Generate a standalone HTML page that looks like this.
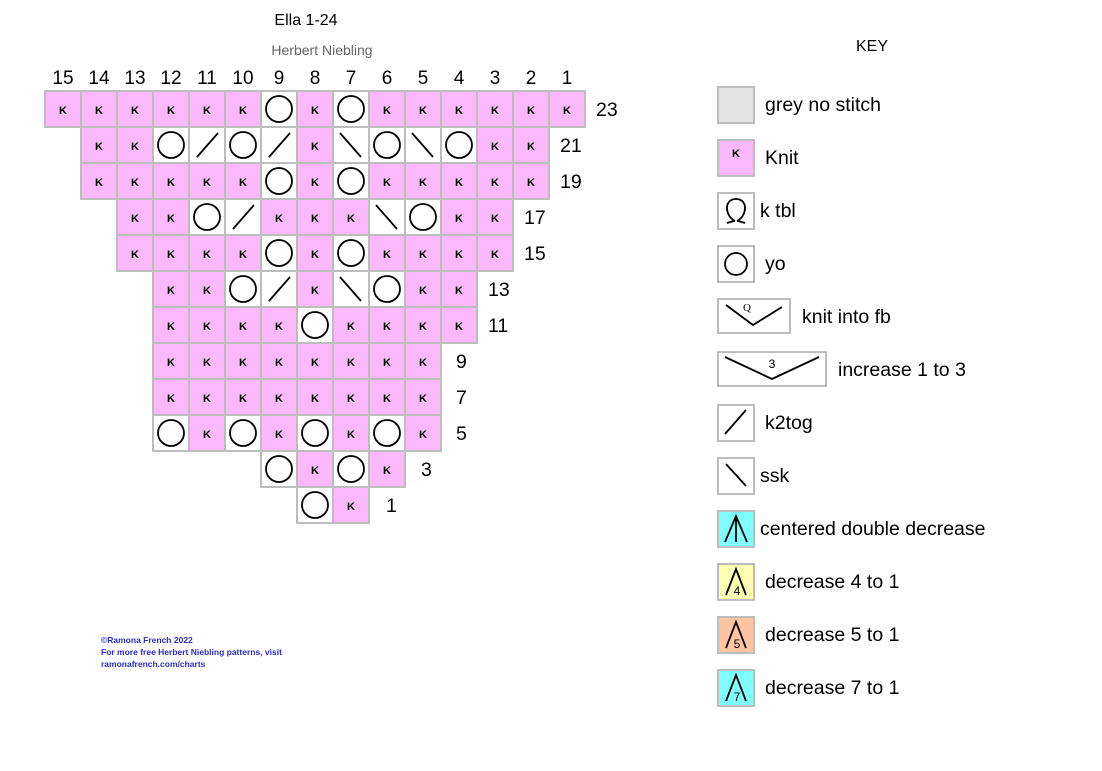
<!DOCTYPE html>
<html><head><meta charset="utf-8"><style>
body{margin:0;background:#fff;}
svg{display:block;font-family:"Liberation Sans",sans-serif;}
.k{fill:#fbb9fb;stroke:#bdbdbd;stroke-width:2}
.w{fill:#fff;stroke:#bdbdbd;stroke-width:2}
.kt{font-size:11px;font-weight:bold;text-anchor:middle;fill:#000}
.o{fill:none;stroke:#000;stroke-width:1.8}
.l{stroke:#000;stroke-width:1.8}
.lab{font-size:19.5px;fill:#000}
.num{font-size:19px;fill:#000;text-anchor:middle}
</style></head><body>
<svg width="1102" height="771" viewBox="0 0 1102 771">
<text x="306" y="25" font-size="16" text-anchor="middle">Ella 1-24</text>
<text x="322" y="55" font-size="14" fill="#666" text-anchor="middle">Herbert Niebling</text>
<g class="num">
<text x="63" y="84">15</text><text x="99" y="84">14</text><text x="135" y="84">13</text><text x="171" y="84">12</text><text x="207" y="84">11</text><text x="243" y="84">10</text><text x="279" y="84">9</text><text x="315" y="84">8</text><text x="351" y="84">7</text><text x="387" y="84">6</text><text x="423" y="84">5</text><text x="459" y="84">4</text><text x="495" y="84">3</text><text x="531" y="84">2</text><text x="567" y="84">1</text>
</g>
<g class="lab">
<text x="596" y="116">23</text><text x="560" y="152">21</text><text x="560" y="188">19</text><text x="524" y="224">17</text><text x="524" y="260">15</text><text x="488" y="296">13</text><text x="488" y="332">11</text><text x="456" y="368">9</text><text x="456" y="404">7</text><text x="456" y="440">5</text><text x="421" y="476">3</text><text x="386" y="512">1</text>
</g>

<rect class="k" x="45" y="91" width="36" height="36"/><text class="kt" x="63" y="114">K</text>
<rect class="k" x="81" y="91" width="36" height="36"/><text class="kt" x="99" y="114">K</text>
<rect class="k" x="117" y="91" width="36" height="36"/><text class="kt" x="135" y="114">K</text>
<rect class="k" x="153" y="91" width="36" height="36"/><text class="kt" x="171" y="114">K</text>
<rect class="k" x="189" y="91" width="36" height="36"/><text class="kt" x="207" y="114">K</text>
<rect class="k" x="225" y="91" width="36" height="36"/><text class="kt" x="243" y="114">K</text>
<rect class="w" x="261" y="91" width="36" height="36"/><circle class="o" cx="279" cy="109" r="13"/>
<rect class="k" x="297" y="91" width="36" height="36"/><text class="kt" x="315" y="114">K</text>
<rect class="w" x="333" y="91" width="36" height="36"/><circle class="o" cx="351" cy="109" r="13"/>
<rect class="k" x="369" y="91" width="36" height="36"/><text class="kt" x="387" y="114">K</text>
<rect class="k" x="405" y="91" width="36" height="36"/><text class="kt" x="423" y="114">K</text>
<rect class="k" x="441" y="91" width="36" height="36"/><text class="kt" x="459" y="114">K</text>
<rect class="k" x="477" y="91" width="36" height="36"/><text class="kt" x="495" y="114">K</text>
<rect class="k" x="513" y="91" width="36" height="36"/><text class="kt" x="531" y="114">K</text>
<rect class="k" x="549" y="91" width="36" height="36"/><text class="kt" x="567" y="114">K</text>

<rect class="k" x="81" y="127" width="36" height="36"/><text class="kt" x="99" y="150">K</text>
<rect class="k" x="117" y="127" width="36" height="36"/><text class="kt" x="135" y="150">K</text>
<rect class="w" x="153" y="127" width="36" height="36"/><circle class="o" cx="171" cy="145" r="13"/>
<rect class="w" x="189" y="127" width="36" height="36"/><line class="l" x1="197" y1="157" x2="218" y2="133"/>
<rect class="w" x="225" y="127" width="36" height="36"/><circle class="o" cx="243" cy="145" r="13"/>
<rect class="w" x="261" y="127" width="36" height="36"/><line class="l" x1="269" y1="157" x2="290" y2="133"/>
<rect class="k" x="297" y="127" width="36" height="36"/><text class="kt" x="315" y="150">K</text>
<rect class="w" x="333" y="127" width="36" height="36"/><line class="l" x1="340" y1="133" x2="361" y2="157"/>
<rect class="w" x="369" y="127" width="36" height="36"/><circle class="o" cx="387" cy="145" r="13"/>
<rect class="w" x="405" y="127" width="36" height="36"/><line class="l" x1="412" y1="133" x2="433" y2="157"/>
<rect class="w" x="441" y="127" width="36" height="36"/><circle class="o" cx="459" cy="145" r="13"/>
<rect class="k" x="477" y="127" width="36" height="36"/><text class="kt" x="495" y="150">K</text>
<rect class="k" x="513" y="127" width="36" height="36"/><text class="kt" x="531" y="150">K</text>

<rect class="k" x="81" y="163" width="36" height="36"/><text class="kt" x="99" y="186">K</text>
<rect class="k" x="117" y="163" width="36" height="36"/><text class="kt" x="135" y="186">K</text>
<rect class="k" x="153" y="163" width="36" height="36"/><text class="kt" x="171" y="186">K</text>
<rect class="k" x="189" y="163" width="36" height="36"/><text class="kt" x="207" y="186">K</text>
<rect class="k" x="225" y="163" width="36" height="36"/><text class="kt" x="243" y="186">K</text>
<rect class="w" x="261" y="163" width="36" height="36"/><circle class="o" cx="279" cy="181" r="13"/>
<rect class="k" x="297" y="163" width="36" height="36"/><text class="kt" x="315" y="186">K</text>
<rect class="w" x="333" y="163" width="36" height="36"/><circle class="o" cx="351" cy="181" r="13"/>
<rect class="k" x="369" y="163" width="36" height="36"/><text class="kt" x="387" y="186">K</text>
<rect class="k" x="405" y="163" width="36" height="36"/><text class="kt" x="423" y="186">K</text>
<rect class="k" x="441" y="163" width="36" height="36"/><text class="kt" x="459" y="186">K</text>
<rect class="k" x="477" y="163" width="36" height="36"/><text class="kt" x="495" y="186">K</text>
<rect class="k" x="513" y="163" width="36" height="36"/><text class="kt" x="531" y="186">K</text>

<rect class="k" x="117" y="199" width="36" height="36"/><text class="kt" x="135" y="222">K</text>
<rect class="k" x="153" y="199" width="36" height="36"/><text class="kt" x="171" y="222">K</text>
<rect class="w" x="189" y="199" width="36" height="36"/><circle class="o" cx="207" cy="217" r="13"/>
<rect class="w" x="225" y="199" width="36" height="36"/><line class="l" x1="233" y1="229" x2="254" y2="205"/>
<rect class="k" x="261" y="199" width="36" height="36"/><text class="kt" x="279" y="222">K</text>
<rect class="k" x="297" y="199" width="36" height="36"/><text class="kt" x="315" y="222">K</text>
<rect class="k" x="333" y="199" width="36" height="36"/><text class="kt" x="351" y="222">K</text>
<rect class="w" x="369" y="199" width="36" height="36"/><line class="l" x1="376" y1="205" x2="397" y2="229"/>
<rect class="w" x="405" y="199" width="36" height="36"/><circle class="o" cx="423" cy="217" r="13"/>
<rect class="k" x="441" y="199" width="36" height="36"/><text class="kt" x="459" y="222">K</text>
<rect class="k" x="477" y="199" width="36" height="36"/><text class="kt" x="495" y="222">K</text>

<rect class="k" x="117" y="235" width="36" height="36"/><text class="kt" x="135" y="258">K</text>
<rect class="k" x="153" y="235" width="36" height="36"/><text class="kt" x="171" y="258">K</text>
<rect class="k" x="189" y="235" width="36" height="36"/><text class="kt" x="207" y="258">K</text>
<rect class="k" x="225" y="235" width="36" height="36"/><text class="kt" x="243" y="258">K</text>
<rect class="w" x="261" y="235" width="36" height="36"/><circle class="o" cx="279" cy="253" r="13"/>
<rect class="k" x="297" y="235" width="36" height="36"/><text class="kt" x="315" y="258">K</text>
<rect class="w" x="333" y="235" width="36" height="36"/><circle class="o" cx="351" cy="253" r="13"/>
<rect class="k" x="369" y="235" width="36" height="36"/><text class="kt" x="387" y="258">K</text>
<rect class="k" x="405" y="235" width="36" height="36"/><text class="kt" x="423" y="258">K</text>
<rect class="k" x="441" y="235" width="36" height="36"/><text class="kt" x="459" y="258">K</text>
<rect class="k" x="477" y="235" width="36" height="36"/><text class="kt" x="495" y="258">K</text>

<rect class="k" x="153" y="271" width="36" height="36"/><text class="kt" x="171" y="294">K</text>
<rect class="k" x="189" y="271" width="36" height="36"/><text class="kt" x="207" y="294">K</text>
<rect class="w" x="225" y="271" width="36" height="36"/><circle class="o" cx="243" cy="289" r="13"/>
<rect class="w" x="261" y="271" width="36" height="36"/><line class="l" x1="269" y1="301" x2="290" y2="277"/>
<rect class="k" x="297" y="271" width="36" height="36"/><text class="kt" x="315" y="294">K</text>
<rect class="w" x="333" y="271" width="36" height="36"/><line class="l" x1="340" y1="277" x2="361" y2="301"/>
<rect class="w" x="369" y="271" width="36" height="36"/><circle class="o" cx="387" cy="289" r="13"/>
<rect class="k" x="405" y="271" width="36" height="36"/><text class="kt" x="423" y="294">K</text>
<rect class="k" x="441" y="271" width="36" height="36"/><text class="kt" x="459" y="294">K</text>

<rect class="k" x="153" y="307" width="36" height="36"/><text class="kt" x="171" y="330">K</text>
<rect class="k" x="189" y="307" width="36" height="36"/><text class="kt" x="207" y="330">K</text>
<rect class="k" x="225" y="307" width="36" height="36"/><text class="kt" x="243" y="330">K</text>
<rect class="k" x="261" y="307" width="36" height="36"/><text class="kt" x="279" y="330">K</text>
<rect class="w" x="297" y="307" width="36" height="36"/><circle class="o" cx="315" cy="325" r="13"/>
<rect class="k" x="333" y="307" width="36" height="36"/><text class="kt" x="351" y="330">K</text>
<rect class="k" x="369" y="307" width="36" height="36"/><text class="kt" x="387" y="330">K</text>
<rect class="k" x="405" y="307" width="36" height="36"/><text class="kt" x="423" y="330">K</text>
<rect class="k" x="441" y="307" width="36" height="36"/><text class="kt" x="459" y="330">K</text>

<rect class="k" x="153" y="343" width="36" height="36"/><text class="kt" x="171" y="366">K</text>
<rect class="k" x="189" y="343" width="36" height="36"/><text class="kt" x="207" y="366">K</text>
<rect class="k" x="225" y="343" width="36" height="36"/><text class="kt" x="243" y="366">K</text>
<rect class="k" x="261" y="343" width="36" height="36"/><text class="kt" x="279" y="366">K</text>
<rect class="k" x="297" y="343" width="36" height="36"/><text class="kt" x="315" y="366">K</text>
<rect class="k" x="333" y="343" width="36" height="36"/><text class="kt" x="351" y="366">K</text>
<rect class="k" x="369" y="343" width="36" height="36"/><text class="kt" x="387" y="366">K</text>
<rect class="k" x="405" y="343" width="36" height="36"/><text class="kt" x="423" y="366">K</text>

<rect class="k" x="153" y="379" width="36" height="36"/><text class="kt" x="171" y="402">K</text>
<rect class="k" x="189" y="379" width="36" height="36"/><text class="kt" x="207" y="402">K</text>
<rect class="k" x="225" y="379" width="36" height="36"/><text class="kt" x="243" y="402">K</text>
<rect class="k" x="261" y="379" width="36" height="36"/><text class="kt" x="279" y="402">K</text>
<rect class="k" x="297" y="379" width="36" height="36"/><text class="kt" x="315" y="402">K</text>
<rect class="k" x="333" y="379" width="36" height="36"/><text class="kt" x="351" y="402">K</text>
<rect class="k" x="369" y="379" width="36" height="36"/><text class="kt" x="387" y="402">K</text>
<rect class="k" x="405" y="379" width="36" height="36"/><text class="kt" x="423" y="402">K</text>

<rect class="w" x="153" y="415" width="36" height="36"/><circle class="o" cx="171" cy="433" r="13"/>
<rect class="k" x="189" y="415" width="36" height="36"/><text class="kt" x="207" y="438">K</text>
<rect class="w" x="225" y="415" width="36" height="36"/><circle class="o" cx="243" cy="433" r="13"/>
<rect class="k" x="261" y="415" width="36" height="36"/><text class="kt" x="279" y="438">K</text>
<rect class="w" x="297" y="415" width="36" height="36"/><circle class="o" cx="315" cy="433" r="13"/>
<rect class="k" x="333" y="415" width="36" height="36"/><text class="kt" x="351" y="438">K</text>
<rect class="w" x="369" y="415" width="36" height="36"/><circle class="o" cx="387" cy="433" r="13"/>
<rect class="k" x="405" y="415" width="36" height="36"/><text class="kt" x="423" y="438">K</text>

<rect class="w" x="261" y="451" width="36" height="36"/><circle class="o" cx="279" cy="469" r="13"/>
<rect class="k" x="297" y="451" width="36" height="36"/><text class="kt" x="315" y="474">K</text>
<rect class="w" x="333" y="451" width="36" height="36"/><circle class="o" cx="351" cy="469" r="13"/>
<rect class="k" x="369" y="451" width="36" height="36"/><text class="kt" x="387" y="474">K</text>

<rect class="w" x="297" y="487" width="36" height="36"/><circle class="o" cx="315" cy="505" r="13"/>
<rect class="k" x="333" y="487" width="36" height="36"/><text class="kt" x="351" y="510">K</text>

<g font-size="8.5" font-weight="bold" fill="#2b2bcc">
<text x="101" y="643">©Ramona French 2022</text>
<text x="101" y="655">For more free Herbert Niebling patterns, visit</text>
<text x="101" y="667">ramonafrench.com/charts</text>
</g>

<text x="872" y="51" font-size="16" text-anchor="middle">KEY</text>
<rect x="718" y="87" width="36" height="36" fill="#e3e3e3" stroke="#bdbdbd" stroke-width="2"/>
<text class="lab" x="765" y="111">grey no stitch</text>
<rect class="k" x="718" y="140" width="36" height="36"/><text class="kt" x="736" y="157">K</text>
<text class="lab" x="765" y="164">Knit</text>
<rect class="w" x="718" y="193" width="36" height="36"/>
<path class="o" d="M735 221 C729 218 727 212 727 208 C727 202 731 199 736 199 C741 199 745 202 745 208 C745 212 743 218 737 221 M727 223 C731 222 733 221 735 221 M737 221 C739 221 741 222 745 223"/>
<text class="lab" x="760" y="217">k tbl</text>
<rect class="w" x="718" y="246" width="36" height="36"/><circle class="o" cx="736" cy="264" r="11"/>
<text class="lab" x="765" y="270">yo</text>
<rect class="w" x="718" y="299" width="72" height="34"/>
<polyline class="o" points="726,305 753,325 782,307"/>
<text x="747" y="311" font-size="11" text-anchor="middle" font-family="Liberation Serif">Q</text>
<text class="lab" x="802" y="323">knit into fb</text>
<rect class="w" x="718" y="352" width="108" height="34"/>
<polyline class="o" points="725,357 772,379 819,357"/>
<text x="772" y="368" font-size="12" text-anchor="middle">3</text>
<text class="lab" x="838" y="376">increase 1 to 3</text>
<rect class="w" x="718" y="405" width="36" height="36"/><line class="l" x1="725" y1="434" x2="746" y2="410"/>
<text class="lab" x="765" y="429">k2tog</text>
<rect class="w" x="718" y="458" width="36" height="36"/><line class="l" x1="726" y1="464" x2="746" y2="486"/>
<text class="lab" x="760" y="482">ssk</text>
<rect x="718" y="511" width="36" height="36" fill="#80ffff" stroke="#bdbdbd" stroke-width="2"/>
<polyline class="o" points="725,542 736,516 747,542"/><line class="l" x1="736" y1="516" x2="736" y2="542"/>
<text class="lab" x="760" y="535">centered double decrease</text>
<rect x="718" y="564" width="36" height="36" fill="#ffffb3" stroke="#bdbdbd" stroke-width="2"/>
<polyline class="o" points="726,595 736,569 746,595"/><text x="737" y="595" font-size="12" text-anchor="middle">4</text>
<text class="lab" x="765" y="588">decrease 4 to 1</text>
<rect x="718" y="617" width="36" height="36" fill="#ffc4a0" stroke="#bdbdbd" stroke-width="2"/>
<polyline class="o" points="726,648 736,622 746,648"/><text x="737" y="648" font-size="12" text-anchor="middle">5</text>
<text class="lab" x="765" y="641">decrease 5 to 1</text>
<rect x="718" y="670" width="36" height="36" fill="#80ffff" stroke="#bdbdbd" stroke-width="2"/>
<polyline class="o" points="726,701 736,675 746,701"/><text x="737" y="701" font-size="12" text-anchor="middle">7</text>
<text class="lab" x="765" y="694">decrease 7 to 1</text>
</svg>
</body></html>
